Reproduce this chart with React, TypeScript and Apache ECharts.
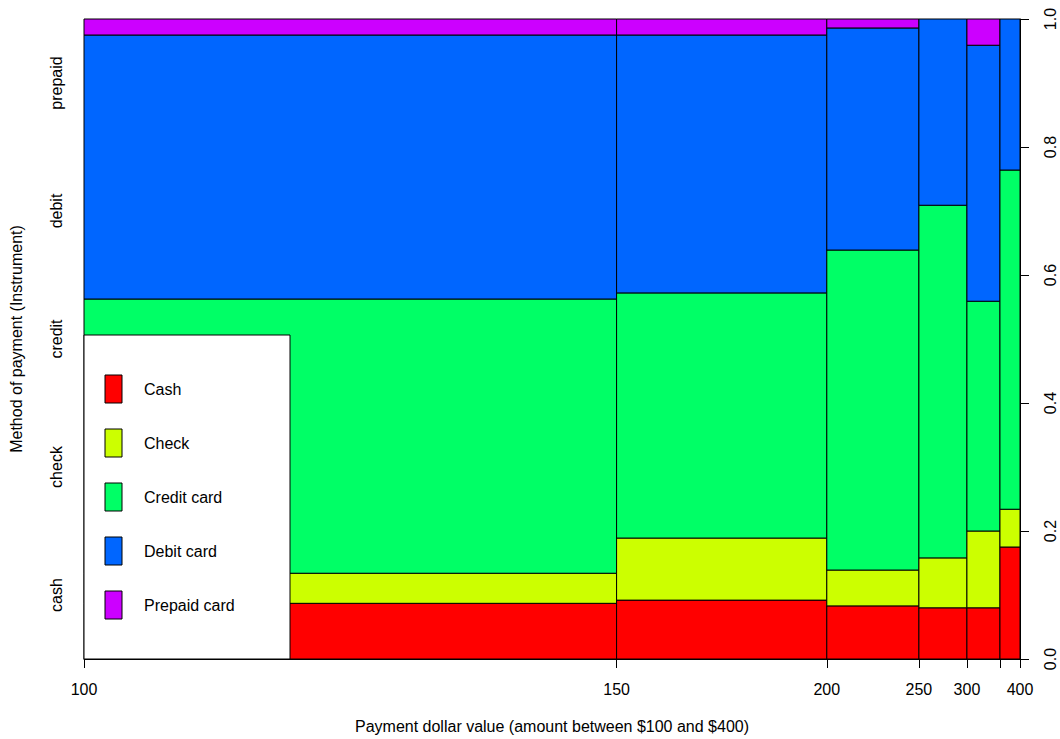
import React, { useEffect, useRef } from "react";
import * as echarts from "echarts";

const methods = ["Cash", "Check", "Credit card", "Debit card", "Prepaid card"];
const yLabels = ["cash", "check", "credit", "debit", "prepaid"];
const yLabelPositions = [0.1, 0.3, 0.5, 0.7, 0.9];
const colors = ["#FF0000", "#CCFF00", "#00FF66", "#0066FF", "#CC00FF"];
const columnShares = [0.569, 0.2246, 0.0984, 0.0513, 0.0353, 0.0214];
const xBreaks = [100, 150, 200, 250, 300, 350, 400];
const xTickLabels = ["100", "150", "200", "250", "300", "", "400"];
const cash = [0.087, 0.092, 0.083, 0.08, 0.08, 0.175];
const check = [0.047, 0.097, 0.056, 0.078, 0.12, 0.059];
const credit = [0.4285, 0.383, 0.5, 0.551, 0.359, 0.53];
const debit = [0.4125, 0.403, 0.347, 0.291, 0.4, 0.236];
const prepaid = [0.025, 0.025, 0.014, 0, 0.041, 0];
const rightTicks = [0, 0.2, 0.4, 0.6, 0.8, 1.0];

const FONT = "'Liberation Sans', Arial, Helvetica, sans-serif";

export default function App() {
  const ref = useRef<HTMLDivElement>(null);
  useEffect(() => {
    if (!ref.current) return;
    const chart = echarts.init(ref.current, null, { renderer: "svg" });
    const series = [cash, check, credit, debit, prepaid];
    const bounds: number[] = [0];
    columnShares.forEach((w, i) => bounds.push(bounds[i] + w));
    bounds[bounds.length - 1] = 1;
    const rects: number[][] = [];
    for (let c = 0; c < columnShares.length; c++) {
      let acc = 0;
      for (let m = 0; m < series.length; m++) {
        const v = series[m][c];
        if (v > 0) rects.push([bounds[c], bounds[c + 1], acc, Math.min(1, acc + v), m]);
        acc += v;
      }
    }
    const nearest = (arr: number[], v: number) => {
      let best = 0;
      let d = Infinity;
      arr.forEach((b, i) => {
        if (Math.abs(b - v) < d) {
          d = Math.abs(b - v);
          best = i;
        }
      });
      return best;
    };

    const legendX = 84;
    const legendTop = 335;
    const legendW = 206;
    const legendH = 324;
    const legendGraphics: any[] = [
      {
        type: "rect",
        shape: { x: legendX, y: legendTop, width: legendW, height: legendH },
        style: { fill: "#FFFFFF", stroke: "#000000", lineWidth: 1 },
        z: 100,
      },
    ];
    methods.forEach((name, i) => {
      const cy = 389 + i * 54;
      legendGraphics.push({
        type: "rect",
        shape: { x: 105, y: cy - 14, width: 17, height: 28 },
        style: { fill: colors[i], stroke: "#000000", lineWidth: 1 },
        z: 101,
      });
      legendGraphics.push({
        type: "text",
        x: 144,
        y: cy,
        style: {
          text: name,
          fill: "#000000",
          font: `16px ${FONT}`,
          verticalAlign: "middle",
          align: "left",
        },
        z: 101,
      });
    });

    chart.setOption({
      animation: false,
      backgroundColor: "#FFFFFF",
      textStyle: { fontFamily: FONT },
      grid: { left: 84, right: 40, top: 19, bottom: 80, containLabel: false },
      xAxis: {
        type: "value",
        min: 0,
        max: 1,
        name: "Payment dollar value (amount between $100 and $400)",
        nameLocation: "middle",
        nameGap: 59,
        nameTextStyle: { color: "#000", fontSize: 16, fontFamily: FONT },
        axisLine: { show: true, onZero: false, lineStyle: { color: "#000", width: 1 } },
        axisTick: {
          show: true,
          length: 9,
          inside: false,
          customValues: bounds,
          lineStyle: { color: "#000" },
        },
        axisLabel: {
          show: true,
          customValues: bounds,
          formatter: (v: number) => xTickLabels[nearest(bounds, v)],
          color: "#000",
          fontSize: 16,
          fontFamily: FONT,
          margin: 22,
          showMinLabel: true,
          showMaxLabel: true,
          hideOverlap: false,
        },
        splitLine: { show: false },
      },
      yAxis: [
        {
          type: "value",
          min: 0,
          max: 1,
          position: "left",
          name: "Method of payment (Instrument)",
          nameLocation: "middle",
          nameGap: 60,
          nameRotate: 90,
          nameTextStyle: { color: "#000", fontSize: 16, fontFamily: FONT },
          axisLine: { show: false },
          axisTick: { show: false },
          axisLabel: {
            show: true,
            customValues: yLabelPositions,
            formatter: (v: number) => yLabels[nearest(yLabelPositions, v)],
            rotate: 90,
            color: "#000",
            fontSize: 16,
            fontFamily: FONT,
            margin: 20,
          },
          splitLine: { show: false },
        },
        {
          type: "value",
          min: 0,
          max: 1,
          interval: 0.2,
          position: "right",
          axisLine: { show: true, lineStyle: { color: "#000", width: 1 } },
          axisTick: { show: true, length: 9, inside: false, lineStyle: { color: "#000" } },
          axisLabel: {
            show: true,
            customValues: rightTicks,
            formatter: (v: number) => v.toFixed(1),
            rotate: 90,
            color: "#000",
            fontSize: 16,
            fontFamily: FONT,
            margin: 22,
            showMinLabel: true,
            showMaxLabel: true,
          },
          splitLine: { show: false },
        },
      ],
      series: [
        {
          type: "custom",
          xAxisIndex: 0,
          yAxisIndex: 0,
          data: rects,
          clip: false,
          renderItem: (params: any, api: any) => {
            const x0 = api.value(0);
            const x1 = api.value(1);
            const y0 = api.value(2);
            const y1 = api.value(3);
            const m = api.value(4);
            const p0 = api.coord([x0, y1]);
            const p1 = api.coord([x1, y0]);
            return {
              type: "rect",
              shape: { x: p0[0], y: p0[1], width: p1[0] - p0[0], height: p1[1] - p0[1] },
              style: { fill: colors[m], stroke: "#000000", lineWidth: 1 },
            };
          },
        },
      ],
      graphic: legendGraphics,
    });
    return () => chart.dispose();
  }, []);
  return (
    <div
      ref={ref}
      style={{ position: "fixed", left: 0, top: 0, width: 1060, height: 739 }}
    />
  );
}
